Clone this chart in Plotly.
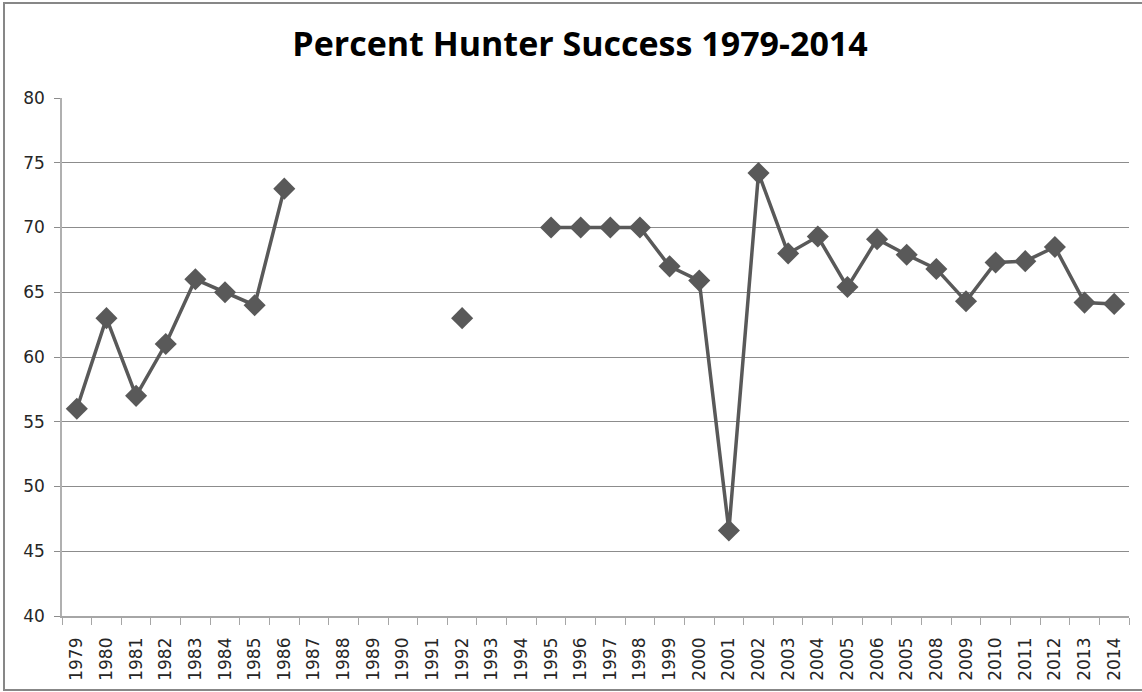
import plotly.graph_objs as go

# ==============================================================================
# DATOS
# ==============================================================================
YEAR_LABELS = ['1979', '1980', '1981', '1982', '1983', '1984', '1985', '1986',
               '1987', '1988', '1989', '1990', '1991', '1992', '1993', '1994',
               '1995', '1996', '1997', '1998', '1999', '2000', '2001', '2002',
               '2003', '2004', '2005', '2006', '2005', '2008', '2009', '2010',
               '2011', '2012', '2013', '2014']

SUCCESS_PCT = [56, 63, 57, 61, 66, 65, 64, 73,
               None, None, None, None, None, 63, None, None,
               70, 70, 70, 70, 67, 65.9, 46.6, 74.2,
               68.0, 69.3, 65.4, 69.1, 67.9, 66.8, 64.3, 67.3,
               67.4, 68.5, 64.2, 64.1]

Y_TICKS = [40, 45, 50, 55, 60, 65, 70, 75, 80]

TITLE = 'Percent Hunter Success 1979-2014'

# ==============================================================================
# GRÁFICO
# ==============================================================================
W, H = 1142, 692
ML, MR, MT, MB = 62, 13, 98, 76
PW, PH = W - ML - MR, H - MT - MB
TICK_FONT = 'DejaVu Sans'

x_idx = list(range(len(YEAR_LABELS)))

fig = go.Figure()

fig.add_trace(go.Scatter(
    x=x_idx,
    y=SUCCESS_PCT,
    mode='lines+markers',
    line=dict(color='#595959', width=3.5),
    marker=dict(symbol='diamond', size=17, color='#595959'),
    connectgaps=False,
    showlegend=False,
    hovertemplate='%{y}<extra></extra>'
))

# Marco exterior del gráfico
fig.add_shape(
    type='rect', xref='paper', yref='paper',
    x0=(4 - ML) / PW, x1=(W + 10 - ML) / PW,
    y0=(H - MB - 690) / PH, y1=(H - MB - 3) / PH,
    line=dict(color='#878787', width=2),
    layer='below'
)

fig.update_layout(
    width=W,
    height=H,
    margin=dict(l=ML, r=MR, t=MT, b=MB),
    plot_bgcolor='white',
    paper_bgcolor='white',
    title=dict(
        text=f'<b>{TITLE}</b>',
        x=580 / W, xanchor='center',
        y=1 - 44 / H, yanchor='middle',
        font=dict(family='Open Sans', size=34, color='black')
    ),
    font=dict(family=TICK_FONT, size=17, color='#262626'),
    xaxis=dict(
        range=[-0.5, len(YEAR_LABELS) - 0.5],
        tickvals=x_idx,
        ticktext=YEAR_LABELS,
        tickangle=-90,
        ticks='',
        ticklen=0,
        minor=dict(tick0=0.5, dtick=1, ticks='outside', ticklen=7,
                   tickcolor='#a6a6a6', showgrid=False),
        showgrid=False,
        showline=True,
        linecolor='#a6a6a6',
        linewidth=1.5,
        zeroline=False,
        automargin=False,
        tickfont=dict(family=TICK_FONT, size=17, color='#262626'),
        ticklabelstandoff=13
    ),
    yaxis=dict(
        range=[40, 80],
        tickvals=Y_TICKS,
        ticks='outside',
        ticklen=6,
        tickcolor='#8c8c8c',
        showgrid=True,
        gridcolor='#8c8c8c',
        gridwidth=1,
        showline=True,
        linecolor='#b0b0b0',
        linewidth=1.5,
        zeroline=False,
        automargin=False,
        tickfont=dict(family=TICK_FONT, size=17, color='#262626'),
        ticklabelstandoff=6
    ),
    hovermode='closest'
)

# Quitar el margen por defecto del body para que el gráfico ocupe toda la ventana
fig.write_html('out.html', config={'displayModeBar': False},
               post_script="document.body.style.margin='0px';")
